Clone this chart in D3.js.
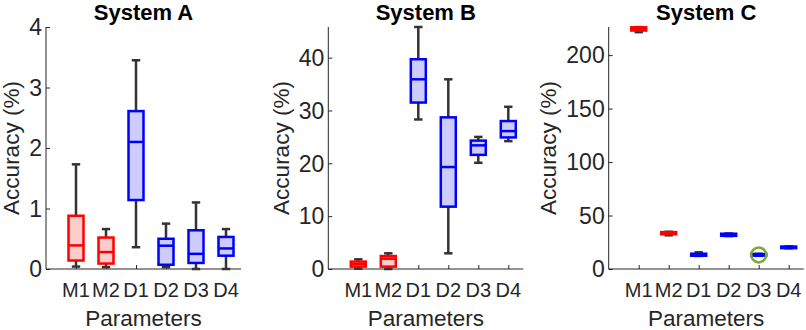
<!DOCTYPE html>
<html>
<head>
<meta charset="utf-8">
<script src="https://cdn.jsdelivr.net/npm/d3@7"></script>
<style>
  body { margin: 0; background: #fff; }
  svg text { font-family: "Liberation Sans", Arial, Helvetica, sans-serif; }
</style>
</head>
<body>
<div id="chart"></div>
<script>
//////////////////////////////////////////////////////////////
//////////////////////////// Data ////////////////////////////
//////////////////////////////////////////////////////////////

var categories = ["M1", "M2", "D1", "D2", "D3", "D4"];
var titles = ["System A", "System B", "System C"];

// each row: [whisker low, q1, median, q3, whisker high]
var systemA = [
    [0.04, 0.14, 0.39, 0.88, 1.73],
    [0.03, 0.09, 0.28, 0.52, 0.66],
    [0.36, 1.14, 2.10, 2.61, 3.45],
    [0.03, 0.07, 0.385, 0.50, 0.75],
    [0.00, 0.10, 0.25, 0.64, 1.10],
    [0.00, 0.22, 0.34, 0.53, 0.66]
];
var systemB = [
    [0.05, 0.45, 0.95, 1.4, 1.83],
    [0.00, 0.45, 1.95, 2.45, 2.97],
    [28.3, 31.5, 35.9, 39.7, 45.8],
    [2.97, 11.8, 19.3, 28.7, 35.9],
    [20.1, 21.6, 23.4, 24.3, 25.0],
    [24.2, 24.9, 26.1, 28.0, 30.7]
];
var systemC = [
    [221.5, 223.0, 224.5, 226.0, 226.2],
    [31.5, 32.5, 33.5, 34.5, 34.8],
    [12.2, 12.4, 13.3, 14.3, 15.6],
    [30.8, 31.0, 32.0, 33.0, 33.2],
    [12.3, 12.5, 13.2, 14.0, 14.2],
    [19.3, 19.5, 20.3, 21.0, 21.2]
];
var systems = [systemA, systemB, systemC];

var yLimits = [4, 45.8, 226.3];
var yTicks = [[0, 1, 2, 3, 4], [0, 10, 20, 30, 40], [0, 50, 100, 150, 200]];

var highlightPanel = 2, highlightCategory = "D3", highlightValue = 13.2;

//////////////////////////////////////////////////////////////
/////////////////////////// Layout ///////////////////////////
//////////////////////////////////////////////////////////////

var width = 806, height = 330;
var panelLeft = [46, 328.3, 608.7],
    plotWidth = 195,
    plotTop = 27,
    plotBottom = 269;

var textColor = "#262626";
var colours = {
    M: { stroke: "#ff0000", fill: "#ffcccc" },
    D: { stroke: "#0000ff", fill: "#ccccff" }
};

var svg = d3.select("#chart")
    .append("svg")
    .attr("width", width)
    .attr("height", height);

systems.forEach(function(data, p) {

    var x = d3.scaleLinear()
        .domain([0, categories.length + 0.5])
        .range([panelLeft[p], panelLeft[p] + plotWidth]);

    var y = d3.scaleLinear()
        .domain([0, yLimits[p]])
        .range([plotBottom, plotTop]);

    var g = svg.append("g").attr("class", "panel");

    //Y axis (ticks point inward like matlab)
    var yAxis = d3.axisRight(y)
        .tickValues(yTicks[p])
        .tickSize(4)
        .tickFormat("");
    var yg = g.append("g")
        .attr("transform", "translate(" + panelLeft[p] + ",0)")
        .call(yAxis);
    yg.select(".domain").attr("d", "M0," + plotTop + "V" + plotBottom);
    yg.selectAll("line, path").attr("stroke", textColor);

    var yLabels = g.append("g").selectAll("text")
        .data(yTicks[p])
        .enter().append("text")
        .attr("x", panelLeft[p] - 4)
        .attr("y", function(d) { return y(d); })
        .attr("dy", "0.36em")
        .attr("text-anchor", "end")
        .style("font-size", "23px")
        .style("fill", textColor)
        .text(function(d) { return d; });

    //X axis
    var xAxis = d3.axisTop(x)
        .tickValues(d3.range(1, categories.length + 1))
        .tickSize(4)
        .tickFormat("");
    var xg = g.append("g")
        .attr("transform", "translate(0," + plotBottom + ")")
        .call(xAxis);
    xg.select(".domain").attr("d", "M" + panelLeft[p] + ",0H" + (panelLeft[p] + plotWidth));
    xg.selectAll("line, path").attr("stroke", textColor);

    g.append("g").selectAll("text")
        .data(categories)
        .enter().append("text")
        .attr("x", function(d, i) { return x(i + 1); })
        .attr("y", 297)
        .attr("text-anchor", "middle")
        .style("font-size", "20px")
        .style("fill", textColor)
        .text(function(d) { return d; });

    //Axis titles
    var maxLabel = 0;
    yLabels.each(function() { maxLabel = Math.max(maxLabel, this.getComputedTextLength()); });
    var labelX = panelLeft[p] - 4 - maxLabel - 18;
    var labelY = (plotTop + plotBottom) / 2;
    g.append("text")
        .attr("transform", "translate(" + labelX + "," + labelY + ") rotate(-90)")
        .attr("dy", "0.36em")
        .attr("text-anchor", "middle")
        .style("font-size", "22.5px")
        .style("fill", textColor)
        .text("Accuracy (%)");

    g.append("text")
        .attr("x", panelLeft[p] + plotWidth / 2)
        .attr("y", 326)
        .attr("text-anchor", "middle")
        .style("font-size", "22.5px")
        .style("fill", textColor)
        .text("Parameters");

    g.append("text")
        .attr("x", panelLeft[p] + plotWidth / 2)
        .attr("y", 20)
        .attr("text-anchor", "middle")
        .style("font-size", "22px")
        .style("font-weight", "bold")
        .style("fill", "#000")
        .text(titles[p]);

    //Boxes
    var boxHalf = 0.25, capHalf = 0.14;
    var boxes = g.append("g").selectAll(".box")
        .data(data)
        .enter().append("g")
        .attr("class", "box");

    boxes.append("line")
        .attr("x1", function(d, i) { return x(i + 1); })
        .attr("x2", function(d, i) { return x(i + 1); })
        .attr("y1", function(d) { return y(d[4]); })
        .attr("y2", function(d) { return y(d[0]); })
        .attr("stroke", "#333")
        .attr("stroke-width", 2.5);

    [0, 4].forEach(function(k) {
        boxes.append("line")
            .attr("x1", function(d, i) { return x(i + 1 - capHalf); })
            .attr("x2", function(d, i) { return x(i + 1 + capHalf); })
            .attr("y1", function(d) { return y(d[k]); })
            .attr("y2", function(d) { return y(d[k]); })
            .attr("stroke", "#333")
            .attr("stroke-width", 2.5);
    });

    boxes.append("rect")
        .attr("x", function(d, i) { return x(i + 1 - boxHalf); })
        .attr("width", function(d, i) { return x(i + 1 + boxHalf) - x(i + 1 - boxHalf); })
        .attr("y", function(d) { return y(d[3]); })
        .attr("height", function(d) { return y(d[1]) - y(d[3]); })
        .attr("fill", function(d, i) { return colours[categories[i][0]].fill; })
        .attr("stroke", function(d, i) { return colours[categories[i][0]].stroke; })
        .attr("stroke-width", 2.5);

    boxes.append("line")
        .attr("x1", function(d, i) { return x(i + 1 - boxHalf); })
        .attr("x2", function(d, i) { return x(i + 1 + boxHalf); })
        .attr("y1", function(d) { return y(d[2]); })
        .attr("y2", function(d) { return y(d[2]); })
        .attr("stroke", function(d, i) { return colours[categories[i][0]].stroke; })
        .attr("stroke-width", 2.5);

    //Highlight circle
    if (p === highlightPanel) {
        g.append("circle")
            .attr("cx", x(categories.indexOf(highlightCategory) + 1))
            .attr("cy", y(highlightValue))
            .attr("r", 7.5)
            .attr("fill", "none")
            .attr("stroke", "#77ac30")
            .attr("stroke-width", 2.5);
    }
});
</script>
</body>
</html>
